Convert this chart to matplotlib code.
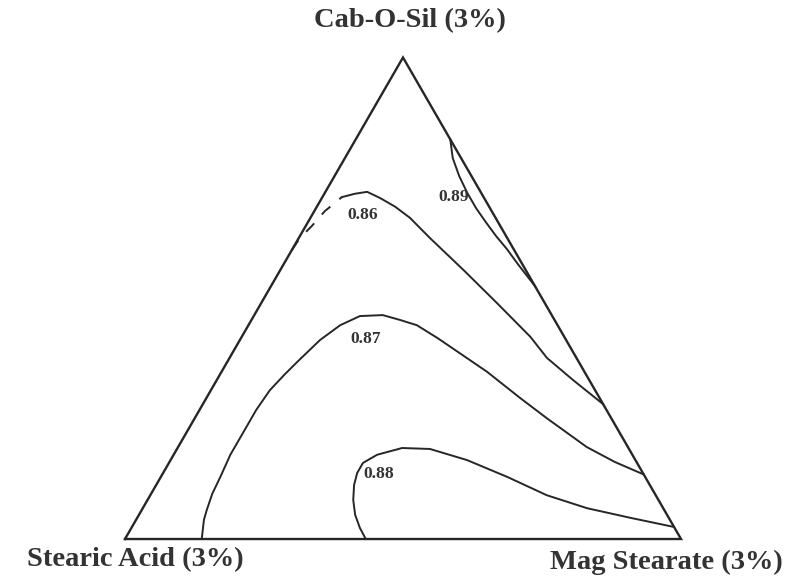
import numpy as np
import matplotlib.pyplot as plt

# Mixture compositions as fractions: cab = Cab-O-Sil, mag = Mag Stearate,
# stearic acid makes up the rest (1 - cab - mag).
vertex_labels = ['Cab-O-Sil (3%)', 'Stearic Acid (3%)', 'Mag Stearate (3%)']

# 0.86 contour: dashed piece near the Cab-O-Sil/Stearic edge, then solid
cab_086_dash = [0.600, 0.625, 0.650, 0.681, 0.710]
mag_086_dash = [0.000, 0.002, 0.011, 0.019, 0.035]
cab_086 = [0.710, 0.717, 0.721, 0.708, 0.690, 0.667, 0.625, 0.559, 0.490, 0.420, 0.376, 0.330, 0.280]
mag_086 = [0.035, 0.055, 0.075, 0.105, 0.141, 0.179, 0.236, 0.329, 0.424, 0.519, 0.571, 0.641, 0.720]

# 0.87 contour
cab_087 = [0.000, 0.040, 0.060, 0.094, 0.129, 0.175, 0.220, 0.268, 0.309, 0.341, 0.368,
           0.413, 0.444, 0.463, 0.465, 0.455, 0.444, 0.417, 0.386, 0.347, 0.293, 0.251,
           0.191, 0.160, 0.134]
mag_087 = [0.138, 0.122, 0.117, 0.110, 0.107, 0.102, 0.102, 0.102, 0.106, 0.116, 0.126,
           0.144, 0.165, 0.191, 0.231, 0.267, 0.303, 0.354, 0.409, 0.478, 0.564, 0.633,
           0.735, 0.801, 0.866]

# 0.88 contour
cab_088 = [0.000, 0.023, 0.050, 0.081, 0.112, 0.137, 0.158, 0.175, 0.189, 0.187, 0.164,
           0.129, 0.091, 0.064, 0.044, 0.025]
mag_088 = [0.433, 0.411, 0.389, 0.370, 0.356, 0.349, 0.349, 0.366, 0.404, 0.455, 0.533,
           0.623, 0.713, 0.799, 0.887, 0.975]

# 0.89 contour (thin loop against the Cab-O-Sil/Mag Stearate edge)
cab_089 = [0.830, 0.791, 0.754, 0.719, 0.687, 0.658, 0.629, 0.602, 0.571, 0.525]
mag_089 = [0.170, 0.194, 0.224, 0.256, 0.288, 0.320, 0.353, 0.386, 0.421, 0.475]

# contour labels and where they sit (cab, mag)
level_text = ['0.86', '0.87', '0.88', '0.89']
level_cab = [0.673, 0.415, 0.134, 0.711]
level_mag = [0.091, 0.226, 0.390, 0.236]


def to_xy(cab, mag):
    cab = np.asarray(cab, dtype=float)
    mag = np.asarray(mag, dtype=float)
    return mag + cab / 2, cab * np.sqrt(3) / 2


line_color = '#262626'
serif = 'Liberation Serif'

fig = plt.figure(figsize=(8.07, 5.85), dpi=100)
ax = fig.add_axes([0, 0, 1, 1])
ax.set_xlim(-0.2248, 1.2266)
ax.set_ylim(-0.0827, 0.9694)
ax.axis('off')

# triangle outline: stearic acid, mag stearate, cab-o-sil corners
tx, ty = to_xy([0, 0, 1, 0], [0, 1, 0, 0])
ax.plot(tx, ty, color=line_color, lw=1.7, solid_joinstyle='miter')

x, y = to_xy(cab_086_dash, mag_086_dash)
ax.plot(x, y, color=line_color, lw=1.4, dashes=(6, 6))
for cab, mag in [(cab_086, mag_086), (cab_087, mag_087), (cab_088, mag_088), (cab_089, mag_089)]:
    x, y = to_xy(cab, mag)
    ax.plot(x, y, color=line_color, lw=1.4)

lx, ly = to_xy(level_cab, level_mag)
for t, xx, yy in zip(level_text, lx, ly):
    ax.text(xx, yy, t, ha='center', va='center', fontsize=12.5, fontweight='bold',
            family=serif, color='#333333')

label_kw = dict(ha='center', va='center', fontsize=20.5, fontweight='bold',
                family=serif, color='#333333')
ax.text(0.5126, 0.9317, vertex_labels[0], **label_kw)
ax.text(0.018, -0.0378, vertex_labels[1], **label_kw)
ax.text(0.973, -0.0414, vertex_labels[2], **label_kw)

fig.savefig('out.png', dpi=100)
